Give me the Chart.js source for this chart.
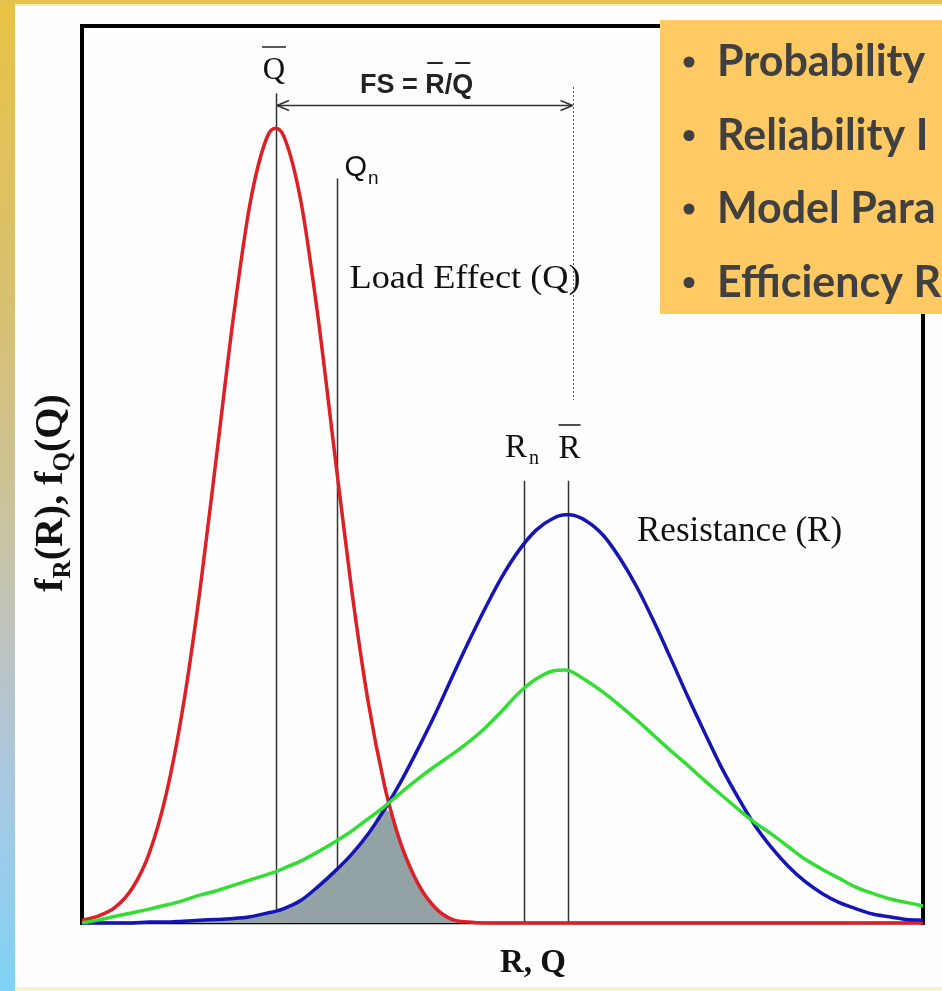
<!DOCTYPE html>
<html>
<head>
<meta charset="utf-8"/>
<style>
  body { margin: 0; padding: 0; background: #fefefe; }
  #wrap { width: 942px; height: 991px; overflow: hidden; }
  canvas { display: block; }
</style>
<script src="https://cdn.jsdelivr.net/npm/chart.js@4.4.1/dist/chart.umd.min.js"></script>
</head>
<body>
<div id="wrap"><canvas id="chart" width="942" height="991"></canvas></div>
<script>
// x positions along the R, Q axis (0 = left frame, 100 = right frame)
var xs = [0, 2, 4, 6, 8, 10, 12, 14, 16, 18, 20, 22, 23, 24, 26, 28, 30, 32, 34, 36, 37, 38,
  40, 42, 44, 46, 48, 50, 52, 54, 56, 57.5, 58, 60, 62, 64, 66, 68, 70, 72, 74, 76, 78, 80,
  82, 84, 86, 88, 90, 92, 94, 96, 98, 100];

// load effect Q (red)
var loadQ = [0.3, 0.8, 1.8, 3.9, 7.8, 14.3, 24.0, 36.9, 52.1, 67.5, 80.3, 87.6, 88.6, 87.7,
  80.6, 68.0, 52.7, 37.6, 24.8, 15.2, 11.6, 8.6, 4.3, 1.7, 0.4, 0.1, 0, 0, 0, 0, 0, 0, 0,
  0, 0, 0, 0, 0, 0, 0, 0, 0, 0, 0, 0, 0, 0, 0, 0, 0, 0, 0, 0, 0];

// resistance R (blue)
var resistR = [0, 0, 0, 0, 0.1, 0.1, 0.2, 0.3, 0.4, 0.5, 0.7, 1.1, 1.3, 1.6, 2.5, 4.0, 5.7,
  7.6, 9.9, 12.7, 14.25, 15.9, 19.5, 23.3, 27.4, 31.4, 35.2, 38.7, 41.6, 43.8, 45.1, 45.5,
  45.5, 44.8, 43.2, 40.6, 37.4, 33.6, 29.5, 25.3, 21.3, 17.4, 14.0, 10.9, 8.4, 6.3, 4.6,
  3.3, 2.3, 1.6, 1.0, 0.7, 0.4, 0.3];

// wider resistance curve (green)
var resistWide = [0, 0.35, 0.75, 1.15, 1.55, 2.0, 2.5, 3.1, 3.6, 4.2, 4.8, 5.4, 5.7, 6.1,
  6.9, 7.9, 9.0, 10.2, 11.6, 13.0, 13.8, 14.6, 16.1, 17.5, 18.8, 20.2, 21.8, 23.7, 25.7,
  27.2, 28.1, 28.2, 28.1, 27.0, 25.7, 24.2, 22.6, 20.9, 19.2, 17.6, 15.9, 14.3, 12.7, 11.2,
  9.9, 8.5, 7.1, 6.0, 5.0, 4.0, 3.3, 2.7, 2.3, 1.9];

// failure region: under both Q and R
var overlap = xs.map(function(x, i) { return Math.min(loadQ[i], resistR[i]); });

// Qbar, Qn, Rn, Rbar marker lines and where they start
var markerX = [23.07, 30.38, 52.56, 57.73];
var markerTop = [92.5, 83.0, 49.3, 49.3];
var fsEndX = 58.38;

var bullets = ['Probability', 'Reliability I', 'Model Para', 'Efficiency R'];

function pts(vals) {
  return xs.map(function(x, i) { return {x: x, y: vals[i]}; });
}

function txt(ctx, s, x, y, font, align, sx) {
  ctx.save();
  ctx.font = font;
  ctx.textAlign = align || 'left';
  ctx.textBaseline = 'alphabetic';
  ctx.translate(x, y);
  ctx.scale(sx || 1, 1);
  ctx.fillText(s, 0, 0);
  ctx.restore();
}

function seg(ctx, x1, y1, x2, y2) {
  ctx.beginPath();
  ctx.moveTo(x1, y1);
  ctx.lineTo(x2, y2);
  ctx.stroke();
}

var serif = '"Liberation Serif", "Times New Roman", serif';
var sans = '"Liberation Sans", Arial, sans-serif';

var decor = {
  id: 'decor',
  beforeDraw: function(chart) {
    var ctx = chart.ctx;
    ctx.save();
    ctx.fillStyle = '#fefefe';
    ctx.fillRect(0, 0, 942, 991);
    var g = ctx.createLinearGradient(0, 0, 0, 991);
    g.addColorStop(0, '#e8c244');
    g.addColorStop(0.3, '#d9c070');
    g.addColorStop(0.5, '#cbc298');
    g.addColorStop(0.65, '#bcc3c0');
    g.addColorStop(0.8, '#a8c8e4');
    g.addColorStop(1, '#7fd3f5');
    ctx.fillStyle = g;
    ctx.fillRect(0, 0, 15, 991);
    ctx.fillStyle = '#e6c24e';
    ctx.fillRect(0, 0, 942, 4);
    ctx.fillStyle = '#f6eabc';
    ctx.fillRect(15, 4, 927, 2);
    ctx.fillStyle = '#f5f2cf';
    ctx.fillRect(15, 987, 927, 4);
    ctx.restore();
  },
  beforeDatasetsDraw: function(chart) {
    var ctx = chart.ctx, a = chart.chartArea;
    var sx = chart.scales.x, sy = chart.scales.y;
    ctx.save();
    ctx.strokeStyle = '#000';
    ctx.lineWidth = 4;
    seg(ctx, a.left, a.top - 2, a.left, a.bottom + 2);
    seg(ctx, a.left - 2, a.top, a.right + 2, a.top);
    seg(ctx, a.right, a.top - 2, a.right, a.bottom + 2);
    ctx.lineWidth = 2.5;
    seg(ctx, a.left, a.bottom, a.right, a.bottom);
    ctx.strokeStyle = '#333';
    ctx.lineWidth = 1.5;
    markerX.forEach(function(v, i) {
      var px = Math.round(sx.getPixelForValue(v)) + 0.5;
      seg(ctx, px, sy.getPixelForValue(markerTop[i]), px, a.bottom);
    });
    ctx.restore();
  },
  afterDatasetsDraw: function(chart) {
    var ctx = chart.ctx, a = chart.chartArea;
    var sx = chart.scales.x, sy = chart.scales.y;
    var qb = sx.getPixelForValue(markerX[0]);
    var qn = sx.getPixelForValue(markerX[1]);
    var rn = sx.getPixelForValue(markerX[2]);
    var rb = sx.getPixelForValue(markerX[3]);
    var fe = Math.round(sx.getPixelForValue(fsEndX)) + 0.5;
    ctx.save();

    // dotted guide at Rbar end of the FS arrow
    ctx.strokeStyle = '#555';
    ctx.lineWidth = 1;
    ctx.setLineDash([2, 2]);
    seg(ctx, fe, sy.getPixelForValue(93.2), fe, sy.getPixelForValue(58.3));
    ctx.setLineDash([]);

    // FS arrow
    var ay = Math.round(sy.getPixelForValue(91.2)) + 0.5;
    ctx.strokeStyle = '#333';
    ctx.lineWidth = 1.6;
    seg(ctx, qb + 1, ay, fe - 1, ay);
    seg(ctx, qb + 1, ay, qb + 13, ay - 5);
    seg(ctx, qb + 1, ay, qb + 13, ay + 5);
    seg(ctx, fe - 1, ay, fe - 13, ay - 5);
    seg(ctx, fe - 1, ay, fe - 13, ay + 5);

    ctx.fillStyle = '#111';
    ctx.strokeStyle = '#222';
    ctx.lineWidth = 1.5;

    // Qbar
    txt(ctx, 'Q', qb - 2, 79, '31px ' + serif, 'center');
    seg(ctx, qb - 14, 47, qb + 10, 47);

    // FS = Rbar/Qbar
    ctx.fillStyle = '#222';
    var f = 'bold 27px ' + sans;
    ctx.font = f;
    var x0 = 360, w1 = ctx.measureText('FS = ').width;
    var wR = ctx.measureText('R').width, wS = ctx.measureText('/').width;
    var wQ = ctx.measureText('Q').width;
    txt(ctx, 'FS = R/Q', x0, 93, f, 'left');
    ctx.lineWidth = 2;
    seg(ctx, x0 + w1 + 2, 63, x0 + w1 + wR - 2, 63);
    seg(ctx, x0 + w1 + wR + wS + 3, 63, x0 + w1 + wR + wS + wQ - 3, 63);

    // Qn
    ctx.fillStyle = '#111';
    txt(ctx, 'Q', qn + 7, 176, '29px ' + sans, 'left');
    ctx.font = '29px ' + sans;
    txt(ctx, 'n', qn + 8 + ctx.measureText('Q').width, 184, '19px ' + sans, 'left');

    txt(ctx, 'Load Effect (Q)', qn + 12, 288, '33px ' + serif, 'left', 1.1);

    // Rn, Rbar
    txt(ctx, 'R', rn - 19, 457, '33px ' + serif, 'left');
    txt(ctx, 'n', rn + 5, 464, '20px ' + serif, 'left');
    txt(ctx, 'R', rb - 9, 458, '33px ' + serif, 'left');
    ctx.lineWidth = 1.6;
    seg(ctx, rb - 9, 425, rb + 13, 425);

    txt(ctx, 'Resistance (R)', 637, 541, '35px ' + serif, 'left');

    // axis titles
    txt(ctx, 'R, Q', 533, 972, 'bold 33px ' + serif, 'center');
    ctx.save();
    ctx.translate(62, 493);
    ctx.rotate(-Math.PI / 2);
    var big = 'bold 40px ' + serif, small = 'bold 25px ' + serif;
    var parts = [['f', big, 0], ['R', small, 8], ['(R), f', big, 0], ['Q', small, 8], ['(Q)', big, 0]];
    var total = 0;
    parts.forEach(function(p) { ctx.font = p[1]; p.push(ctx.measureText(p[0]).width); total += p[3]; });
    var cx = -total / 2;
    parts.forEach(function(p) {
      ctx.font = p[1];
      ctx.fillText(p[0], cx, p[2]);
      cx += p[3];
    });
    ctx.restore();

    // orange bullet box
    ctx.fillStyle = '#ffc964';
    ctx.fillRect(660, 20, 282, 294);
    ctx.fillStyle = '#404040';
    var bf = 'bold 43px Lato, "Open Sans", sans-serif';
    bullets.forEach(function(s, i) {
      var by = 76 + i * 73.5;
      ctx.beginPath();
      ctx.arc(689, by - 14, 5.5, 0, Math.PI * 2);
      ctx.fill();
      txt(ctx, s, 717, by, bf, 'left');
    });
    ctx.restore();
  }
};

function lineSet(vals, color, order) {
  return {
    data: pts(vals),
    borderColor: color,
    borderWidth: 3.5,
    fill: false,
    pointRadius: 0,
    cubicInterpolationMode: 'monotone',
    clip: false,
    order: order
  };
}

new Chart(document.getElementById('chart'), {
  type: 'line',
  data: {
    datasets: [
      lineSet(resistWide, '#33dd33', 0),
      lineSet(resistR, '#1515b5', 1),
      lineSet(loadQ, '#dd1f26', 2),
      {
        data: pts(overlap),
        borderWidth: 0,
        borderColor: 'rgba(0,0,0,0)',
        backgroundColor: '#93a3a5',
        fill: 'origin',
        pointRadius: 0,
        cubicInterpolationMode: 'monotone',
        order: 3
      }
    ]
  },
  options: {
    responsive: false,
    animation: false,
    devicePixelRatio: 1,
    layout: { padding: { left: 82, right: 19, top: 26, bottom: 68 } },
    plugins: { legend: { display: false }, tooltip: { enabled: false } },
    scales: {
      x: { type: 'linear', min: 0, max: 100, display: false },
      y: { min: 0, max: 100, display: false }
    }
  },
  plugins: [decor]
});
</script>
</body>
</html>
